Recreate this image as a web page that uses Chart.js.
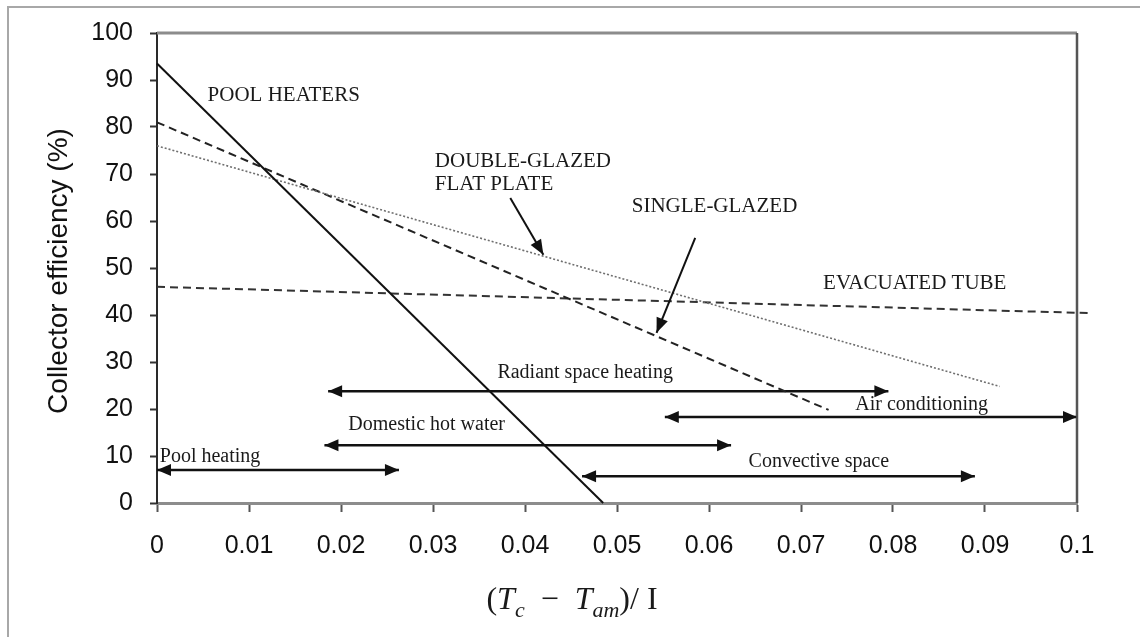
<!DOCTYPE html>
<html>
<head>
<meta charset="utf-8">
<title>Collector efficiency</title>
<script src="https://cdn.jsdelivr.net/npm/chart.js@4.4.1/dist/chart.umd.min.js"></script>
<style>
  html, body { margin: 0; padding: 0; background: #fff; }
  #wrap { position: relative; width: 1140px; height: 637px; }
</style>
</head>
<body>
<div id="wrap"><canvas id="chart"></canvas></div>
<script>
// efficiency lines, end points as [x, efficiency %]
const poolHeaters = [[0, 93.5], [0.0485, 0]];
const singleGlazed = [[0, 81], [0.073, 19.8]];
const doubleGlazed = [[0, 76], [0.0916, 24.8]];
const evacuatedTube = [[0, 46], [0.1013, 40.4]];

// application ranges (double-headed arrows)
const rangeNames = ['Radiant space heating', 'Air conditioning', 'Domestic hot water', 'Pool heating', 'Convective space'];
const rangeFrom = [0.0186, 0.0552, 0.0182, 0, 0.0462];
const rangeTo = [0.0795, 0.1, 0.0624, 0.0263, 0.0889];
const rangeLevel = [23.8, 18.3, 12.3, 7.0, 5.7];

// axis ticks
const xTickLabels = ['0', '0.01', '0.02', '0.03', '0.04', '0.05', '0.06', '0.07', '0.08', '0.09', '0.1'];
const yTickLabels = ['0', '10', '20', '30', '40', '50', '60', '70', '80', '90', '100'];

// text labels, placed in data units (left edge, vertical centre)
const notes = [
  { text: 'POOL HEATERS', x: 0.0055, y: 86.8, size: 21 },
  { text: 'DOUBLE-GLAZED', x: 0.0302, y: 72.6, size: 21 },
  { text: 'FLAT PLATE', x: 0.0302, y: 67.7, size: 21 },
  { text: 'SINGLE-GLAZED', x: 0.0516, y: 63.0, size: 21 },
  { text: 'EVACUATED TUBE', x: 0.0724, y: 46.8, size: 21 },
  { text: rangeNames[0], x: 0.0370, y: 27.7, size: 20 },
  { text: rangeNames[1], x: 0.0759, y: 20.9, size: 20 },
  { text: rangeNames[2], x: 0.0208, y: 16.6, size: 20 },
  { text: rangeNames[3], x: 0.0003, y: 9.8, size: 20 },
  { text: rangeNames[4], x: 0.0643, y: 8.7, size: 20 }
];

// pointers from the labels to their curves
const pointers = [
  { from: [0.0384, 64.9], to: [0.0420, 52.8] },
  { from: [0.0585, 56.4], to: [0.0543, 36.2] }
];

const toPoints = arr => arr.map(p => ({ x: p[0], y: p[1] }));

function lineSet(label, pts, color, width, dash) {
  return {
    label: label,
    data: toPoints(pts),
    borderColor: color,
    borderWidth: width,
    borderDash: dash,
    pointRadius: 0,
    fill: false,
    tension: 0,
    clip: false
  };
}

const datasets = [
  lineSet('Pool heaters', poolHeaters, '#111', 2, []),
  lineSet('Double-glazed flat plate', doubleGlazed, '#6f6f6f', 1.6, [2, 2]),
  lineSet('Single-glazed', singleGlazed, '#222', 2, [8, 5]),
  lineSet('Evacuated tube', evacuatedTube, '#333', 2, [8, 5])
];

rangeNames.forEach((name, i) => {
  datasets.push(lineSet(name, [[rangeFrom[i], rangeLevel[i]], [rangeTo[i], rangeLevel[i]]], '#111', 2.5, []));
});

function arrowHead(ctx, fx, fy, tx, ty, len, half) {
  const a = Math.atan2(ty - fy, tx - fx);
  ctx.beginPath();
  ctx.moveTo(tx, ty);
  ctx.lineTo(tx - len * Math.cos(a) + half * Math.sin(a), ty - len * Math.sin(a) - half * Math.cos(a));
  ctx.lineTo(tx - len * Math.cos(a) - half * Math.sin(a), ty - len * Math.sin(a) + half * Math.cos(a));
  ctx.closePath();
  ctx.fill();
}

const decorations = {
  id: 'decorations',
  beforeDraw(chart) {
    const ctx = chart.ctx;
    ctx.save();
    ctx.fillStyle = '#fff';
    ctx.fillRect(0, 0, chart.width, chart.height);
    // outer figure frame
    ctx.strokeStyle = '#a8a8a8';
    ctx.lineWidth = 2;
    ctx.beginPath();
    ctx.moveTo(8, chart.height);
    ctx.lineTo(8, 7);
    ctx.lineTo(chart.width, 7);
    ctx.stroke();
    ctx.restore();
  },
  afterDatasetsDraw(chart) {
    const ctx = chart.ctx;
    const xs = chart.scales.x, ys = chart.scales.y;
    const area = chart.chartArea;
    ctx.save();

    // top and right edges of the plot box
    ctx.strokeStyle = '#8c8c8c';
    ctx.lineWidth = 3;
    ctx.beginPath();
    ctx.moveTo(area.left, area.top);
    ctx.lineTo(area.right, area.top);
    ctx.stroke();
    ctx.strokeStyle = '#555';
    ctx.lineWidth = 2.5;
    ctx.beginPath();
    ctx.moveTo(area.right, area.top);
    ctx.lineTo(area.right, area.bottom);
    ctx.stroke();

    // arrow heads on the application ranges
    ctx.fillStyle = '#111';
    rangeNames.forEach((name, i) => {
      const y = ys.getPixelForValue(rangeLevel[i]);
      const x0 = xs.getPixelForValue(rangeFrom[i]);
      const x1 = xs.getPixelForValue(rangeTo[i]);
      arrowHead(ctx, x1, y, x0, y, 14, 6);
      arrowHead(ctx, x0, y, x1, y, 14, 6);
    });

    // pointers
    ctx.strokeStyle = '#111';
    ctx.lineWidth = 2;
    pointers.forEach(p => {
      const fx = xs.getPixelForValue(p.from[0]), fy = ys.getPixelForValue(p.from[1]);
      const tx = xs.getPixelForValue(p.to[0]), ty = ys.getPixelForValue(p.to[1]);
      ctx.beginPath();
      ctx.moveTo(fx, fy);
      ctx.lineTo(tx, ty);
      ctx.stroke();
      arrowHead(ctx, fx, fy, tx, ty, 15, 6);
    });

    // labels
    ctx.fillStyle = '#1a1a1a';
    ctx.textBaseline = 'middle';
    ctx.textAlign = 'left';
    notes.forEach(n => {
      ctx.font = n.size + 'px "Liberation Serif", "Times New Roman", serif';
      ctx.fillText(n.text, xs.getPixelForValue(n.x), ys.getPixelForValue(n.y));
    });

    // y axis title
    ctx.save();
    ctx.translate(59, 271);
    ctx.rotate(-Math.PI / 2);
    ctx.textAlign = 'center';
    ctx.fillStyle = '#111';
    ctx.font = '28px "Liberation Sans", Arial, sans-serif';
    ctx.fillText('Collector efficiency (%)', 0, 0);
    ctx.restore();

    // x axis title: (Tc - Tam)/ I
    const big = '32px "Liberation Serif", "Times New Roman", serif';
    const bigIt = 'italic 32px "Liberation Serif", "Times New Roman", serif';
    const small = 'italic 22px "Liberation Serif", "Times New Roman", serif';
    const parts = [
      { t: '(', f: big, dy: 0 },
      { t: 'T', f: bigIt, dy: 0 },
      { t: 'c', f: small, dy: 8 },
      { t: '  \u2212  ', f: big, dy: 0 },
      { t: 'T', f: bigIt, dy: 0 },
      { t: 'am', f: small, dy: 8 },
      { t: ')/ I', f: big, dy: 0 }
    ];
    let total = 0;
    parts.forEach(p => { ctx.font = p.f; total += ctx.measureText(p.t).width; });
    let cx = 572 - total / 2;
    const baseY = 609;
    ctx.fillStyle = '#1a1a1a';
    ctx.textBaseline = 'alphabetic';
    parts.forEach(p => {
      ctx.font = p.f;
      ctx.fillText(p.t, cx, baseY + p.dy);
      cx += ctx.measureText(p.t).width;
    });

    ctx.restore();
  }
};

new Chart(document.getElementById('chart'), {
  type: 'line',
  data: { datasets: datasets },
  options: {
    responsive: true,
    maintainAspectRatio: false,
    animation: false,
    events: [],
    layout: { padding: { left: 0, top: 33, right: 63, bottom: 0 } },
    plugins: {
      legend: { display: false },
      tooltip: { enabled: false }
    },
    scales: {
      x: {
        type: 'linear',
        min: 0,
        max: 0.1,
        afterFit: scale => { scale.height = 134; },
        afterBuildTicks: scale => {
          scale.ticks = xTickLabels.map(v => ({ value: parseFloat(v) }));
        },
        ticks: {
          callback: (v, i) => xTickLabels[i],
          font: { family: '"Liberation Sans", Arial, sans-serif', size: 25 },
          color: '#111',
          padding: 19,
          maxRotation: 0,
          autoSkip: false
        },
        grid: {
          drawOnChartArea: false,
          drawTicks: true,
          tickLength: 9,
          tickColor: '#555',
          tickWidth: 2
        },
        border: { display: true, color: '#8c8c8c', width: 3 }
      },
      y: {
        type: 'linear',
        min: 0,
        max: 100,
        afterFit: scale => { scale.width = 157; },
        afterBuildTicks: scale => {
          scale.ticks = yTickLabels.map(v => ({ value: parseFloat(v) }));
        },
        ticks: {
          callback: (v, i) => yTickLabels[i],
          font: { family: '"Liberation Sans", Arial, sans-serif', size: 25 },
          color: '#111',
          padding: 17,
          autoSkip: false
        },
        grid: {
          drawOnChartArea: false,
          drawTicks: true,
          tickLength: 7,
          tickColor: '#333',
          tickWidth: 2
        },
        border: { display: true, color: '#2a2a2a', width: 2 }
      }
    }
  },
  plugins: [decorations]
});
</script>
</body>
</html>
